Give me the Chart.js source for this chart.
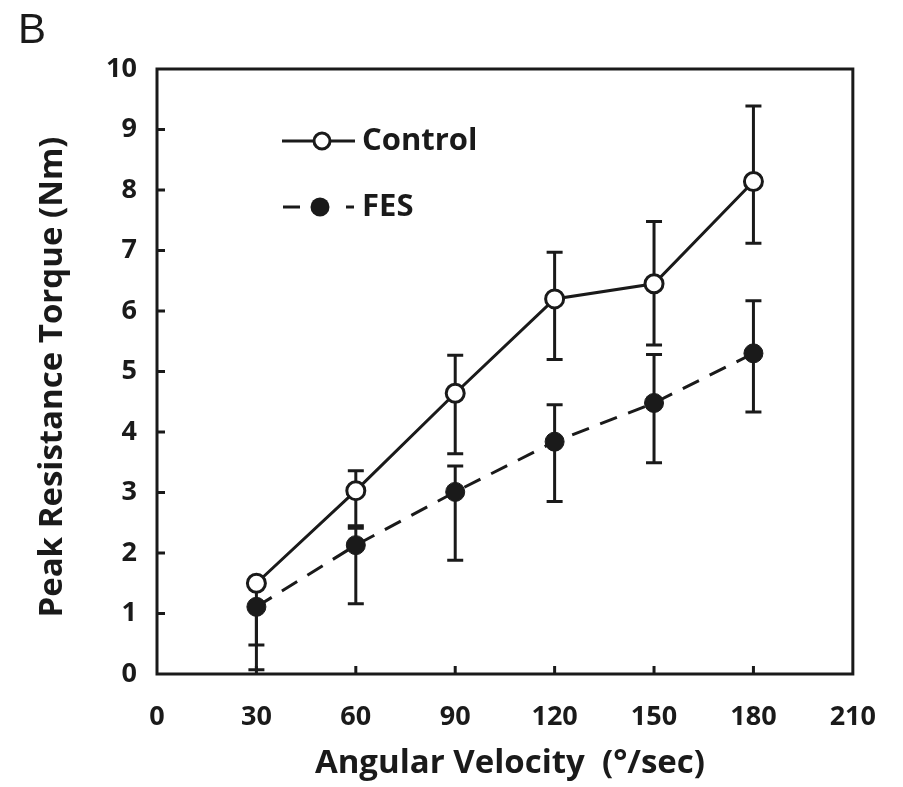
<!DOCTYPE html>
<html>
<head>
<meta charset="utf-8">
<script src="https://cdn.jsdelivr.net/npm/chart.js@4.4.1/dist/chart.umd.min.js"></script>
<style>
  body { margin: 0; background: #fff; }
  #chart { display: block; }
</style>
</head>
<body>
<canvas id="chart" width="903" height="787"></canvas>
<script>
const angles = [30, 60, 90, 120, 150, 180];

const controlMean  = [1.50, 3.03, 4.64, 6.20, 6.45, 8.14];
const controlUpper = [1.50, 3.36, 5.27, 6.97, 7.48, 9.39];
const controlLower = [0.48, 2.45, 3.64, 5.20, 5.44, 7.12];

const fesMean  = [1.11, 2.13, 3.01, 3.84, 4.48, 5.30];
const fesUpper = [1.11, 2.41, 3.44, 4.45, 5.28, 6.17];
const fesLower = [0.07, 1.16, 1.88, 2.85, 3.49, 4.33];

const xTicks = [0, 30, 60, 90, 120, 150, 180, 210];
const yTicks = [0, 1, 2, 3, 4, 5, 6, 7, 8, 9, 10];

const FONT = "'Open Sans', 'DejaVu Sans', sans-serif";
const ink = '#1a1a1a';

// error bars go under the markers
const errorBars = {
  id: 'errorBars',
  beforeDatasetsDraw(chart) {
    const { ctx, scales: { x, y } } = chart;
    const sets = [
      [controlMean, controlUpper, controlLower],
      [fesMean, fesUpper, fesLower]
    ];
    ctx.save();
    ctx.strokeStyle = ink;
    ctx.lineWidth = 3;
    sets.forEach(([mean, up, lo]) => {
      angles.forEach((a, i) => {
        const px = x.getPixelForValue(a);
        const yt = y.getPixelForValue(up[i]);
        const yb = y.getPixelForValue(lo[i]);
        ctx.beginPath();
        ctx.moveTo(px, yt); ctx.lineTo(px, yb);
        if (up[i] !== mean[i]) {
          ctx.moveTo(px - 8, yt); ctx.lineTo(px + 8, yt);
        }
        ctx.moveTo(px - 8, yb); ctx.lineTo(px + 8, yb);
        ctx.stroke();
      });
    });
    ctx.restore();
  }
};

const frame = {
  id: 'frame',
  afterDraw(chart) {
    const { ctx, chartArea: ca, scales: { x, y } } = chart;
    ctx.save();
    ctx.strokeStyle = ink;
    ctx.lineWidth = 3;
    ctx.strokeRect(ca.left, ca.top, ca.right - ca.left, ca.bottom - ca.top);
    ctx.beginPath();
    yTicks.slice(1, -1).forEach(v => {
      const py = y.getPixelForValue(v);
      ctx.moveTo(ca.left, py); ctx.lineTo(ca.left + 8, py);
    });
    xTicks.slice(1, -1).forEach(v => {
      const px = x.getPixelForValue(v);
      ctx.moveTo(px, ca.bottom); ctx.lineTo(px, ca.bottom - 8);
    });
    ctx.stroke();

    // legend
    const lx = ca.left;
    const r1 = ca.top + 72, r2 = ca.top + 138;
    ctx.beginPath();
    ctx.moveTo(lx + 125, r1); ctx.lineTo(lx + 198, r1);
    ctx.moveTo(lx + 126, r2); ctx.lineTo(lx + 143, r2);
    ctx.moveTo(lx + 189, r2); ctx.lineTo(lx + 197, r2);
    ctx.stroke();
    ctx.beginPath();
    ctx.arc(lx + 165, r1, 8, 0, Math.PI * 2);
    ctx.fillStyle = '#fff'; ctx.fill(); ctx.stroke();
    ctx.beginPath();
    ctx.arc(lx + 163, r2, 9.5, 0, Math.PI * 2);
    ctx.fillStyle = ink; ctx.fill();
    ctx.font = `bold 31px ${FONT}`;
    ctx.textBaseline = 'middle';
    ctx.textAlign = 'left';
    ctx.fillText('Control', lx + 205, r1);
    ctx.fillText('FES', lx + 205, r2);

    // axis titles and panel letter
    ctx.font = `bold 33px ${FONT}`;
    ctx.textAlign = 'center';
    ctx.textBaseline = 'alphabetic';
    ctx.fillText('Angular Velocity  (°/sec)', (ca.left + ca.right) / 2 + 5, 773);
    ctx.save();
    ctx.translate(62, 377);
    ctx.rotate(-Math.PI / 2);
    ctx.fillText('Peak Resistance Torque (Nm)', 0, 0);
    ctx.restore();
    ctx.font = `42px 'Liberation Sans', Arial, sans-serif`;
    ctx.textAlign = 'left';
    ctx.fillText('B', 18, 43);
    ctx.restore();
  }
};

new Chart(document.getElementById('chart'), {
  type: 'line',
  data: {
    datasets: [
      {
        label: 'Control',
        data: angles.map((a, i) => ({ x: a, y: controlMean[i] })),
        borderColor: ink,
        borderWidth: 3,
        pointRadius: 9,
        pointBorderWidth: 3,
        pointBackgroundColor: '#fff',
        pointBorderColor: ink,
        tension: 0
      },
      {
        label: 'FES',
        data: angles.map((a, i) => ({ x: a, y: fesMean[i] })),
        borderColor: ink,
        borderWidth: 3,
        borderDash: [18, 12],
        pointRadius: 9.5,
        pointBorderWidth: 1,
        pointBackgroundColor: ink,
        pointBorderColor: ink,
        tension: 0
      }
    ]
  },
  options: {
    responsive: false,
    animation: false,
    layout: { padding: { top: 69, right: 48, left: 0, bottom: 0 } },
    plugins: { legend: { display: false }, tooltip: { enabled: false } },
    scales: {
      x: {
        type: 'linear',
        min: 0, max: 210,
        afterBuildTicks: s => { s.ticks = xTicks.map(v => ({ value: v })); },
        afterFit: s => { s.height = 113; },
        grid: { display: false, drawTicks: false },
        border: { display: false },
        ticks: { padding: 27, color: ink, font: { family: FONT, size: 27, weight: 'bold' } }
      },
      y: {
        min: 0, max: 10,
        afterBuildTicks: s => { s.ticks = yTicks.map(v => ({ value: v })); },
        afterFit: s => { s.width = 157; },
        grid: { display: false, drawTicks: false },
        border: { display: false },
        ticks: { padding: 20, color: ink, font: { family: FONT, size: 27, weight: 'bold' } }
      }
    }
  },
  plugins: [errorBars, frame]
});
</script>
</body>
</html>
